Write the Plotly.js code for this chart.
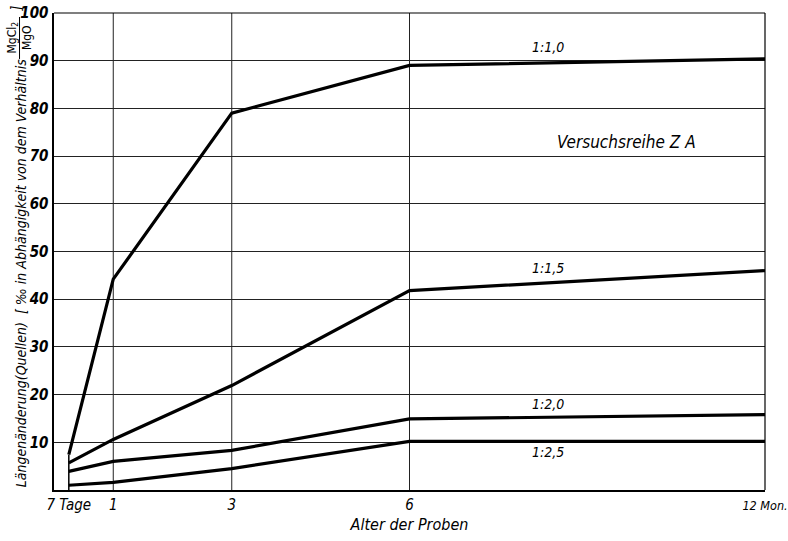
<!DOCTYPE html>
<html>
<head>
<meta charset="utf-8">
<script src="https://cdn.plot.ly/plotly-3.0.1.min.js"></script>
<style>html,body{margin:0;padding:0;background:#fff;}#chart{width:788px;height:541px;}</style>
</head>
<body>
<div id="chart"></div>
<script>
// Age of samples in months (7 Tage = 0.25 months)
const ages = [0.25, 1, 3, 6, 12];
const tickVals = [0.25, 1, 3, 6, 12];
const tickText = ["7 Tage", "1", "3", "6", "<span style='font-size:12.5px'>12 Mon.</span>"];
const seriesNames = ["1:1,0", "1:1,5", "1:2,0", "1:2,5"];
const s10 = [7.4, 44.2, 79.0, 89.0, 90.4];
const s15 = [5.7, 10.6, 21.9, 41.8, 46.0];
const s20 = [3.9, 6.0, 8.3, 14.9, 15.8];
const s25 = [1.0, 1.6, 4.5, 10.2, 10.2];
const seriesValues = [s10, s15, s20, s25];
const labelX = 8.34;
const labelY = [92.9, 46.6, 18.1, 8.0];

const FONT = "Liberation Sans Narrow, DejaVu Sans Condensed, Arial Narrow, sans-serif";

const traces = seriesValues.map((v, i) => ({
  x: ages, y: v, type: "scatter", mode: "lines", name: seriesNames[i],
  line: {color: "#000", width: 3.2}, showlegend: false, hoverinfo: "skip"
}));

const annotations = seriesNames.map((n, i) => ({
  x: labelX, y: labelY[i], xref: "x", yref: "y", text: n, showarrow: false,
  font: {family: FONT, size: 14, color: "#000", style: "italic"}
}));
annotations.push({
  x: 9.67, y: 73.0, xref: "x", yref: "y", text: "Versuchsreihe Z A", showarrow: false,
  font: {family: FONT, size: 17, color: "#000", style: "italic"}
});
// y-axis title, rotated
annotations.push({
  x: (20 - 53.5) / 711.5, y: (490.4 - 274) / 477.4, xref: "paper", yref: "paper",
  text: "Längenänderung(Quellen)  [ ‰ in Abhängigkeit von dem Verhältnis",
  textangle: -90, showarrow: false, xanchor: "center", yanchor: "middle",
  font: {family: FONT, size: 14, color: "#000", style: "italic"}
});
annotations.push({
  x: (19 - 53.5) / 711.5, y: (490.4 - 38) / 477.4, xref: "paper", yref: "paper",
  text: "MgCl<sub>2</sub><br>MgO", textangle: -90, showarrow: false,
  xanchor: "center", yanchor: "middle",
  font: {family: FONT, size: 12, color: "#000"}
});
annotations.push({
  x: (15 - 53.5) / 711.5, y: (490.4 - 9) / 477.4, xref: "paper", yref: "paper",
  text: "]", textangle: -90, showarrow: false, xanchor: "center", yanchor: "middle",
  font: {family: FONT, size: 14, color: "#000", style: "italic"}
});

const layout = {
  width: 788, height: 541,
  margin: {l: 54, r: 23, t: 13, b: 51},
  paper_bgcolor: "#fff", plot_bgcolor: "#fff",
  showlegend: false,
  xaxis: {
    range: [0, 12], tickvals: tickVals, ticktext: tickText,
    showgrid: false, zeroline: false, showline: true, linecolor: "#000", linewidth: 2,
    mirror: false, ticks: "", ticklen: 0, ticklabeloverflow: "allow",
    tickfont: {family: FONT, size: 15, color: "#000", style: "italic"},
    title: {text: "Alter der Proben", standoff: 6,
            font: {family: FONT, size: 16, color: "#000", style: "italic"}}
  },
  yaxis: {
    range: [0, 100], tickvals: [10,20,30,40,50,60,70,80,90,100],
    showgrid: true, gridcolor: "#222", gridwidth: 1,
    zeroline: false, showline: true, linecolor: "#000", linewidth: 2.5,
    ticks: "", ticklabeloverflow: "allow",
    tickfont: {family: FONT, size: 15, color: "#000", style: "italic", weight: "bold"}
  },
  shapes: [
    // vertical grid lines at 1, 3, 6 months
    ...[1, 3, 6].map(v => ({type: "line", xref: "x", yref: "paper", x0: v, x1: v, y0: 0, y1: 1,
      line: {color: "#222", width: 1}, layer: "below"})),
    // top and right frame
    {type: "line", xref: "paper", yref: "paper", x0: 0, x1: 1, y0: 1, y1: 1, line: {color: "#000", width: 1.2}},
    {type: "line", xref: "paper", yref: "paper", x0: 1, x1: 1, y0: 0, y1: 1, line: {color: "#000", width: 1.2}},
    // short vertical at 7 Tage
    {type: "line", xref: "x", yref: "y", x0: ages[0], x1: ages[0], y0: 0, y1: s10[0], line: {color: "#000", width: 1.5}},
    // fraction bar
    {type: "line", xref: "paper", yref: "paper",
     x0: (19 - 53.5) / 711.5, x1: (19 - 53.5) / 711.5,
     y0: (490.4 - 17) / 477.4, y1: (490.4 - 59) / 477.4, line: {color: "#000", width: 1}}
  ],
  annotations: annotations
};

Plotly.newPlot("chart", traces, layout, {staticPlot: true, displayModeBar: false});
</script>
</body>
</html>
